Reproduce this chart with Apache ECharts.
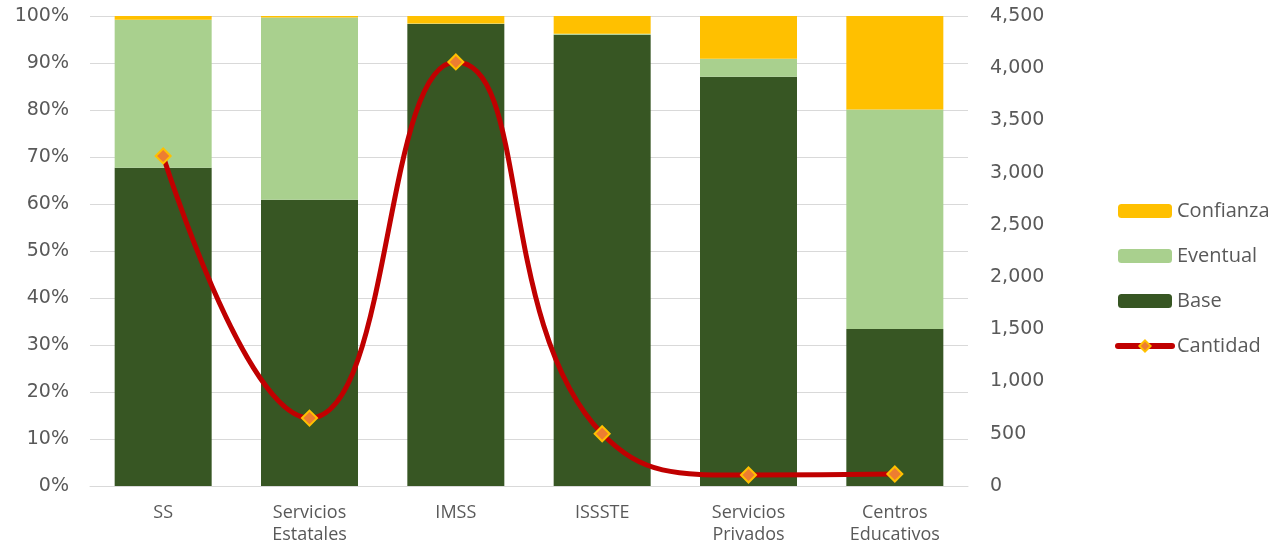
<!DOCTYPE html>
<html>
<head>
<meta charset="utf-8">
<script src="https://cdn.jsdelivr.net/npm/echarts@6/dist/echarts.min.js"></script>
<style>
html,body{margin:0;padding:0;background:#fff;}
#c{width:1279px;height:548px;}
</style>
</head>
<body>
<div id="c"></div>
<script>
const categories = ['SS', 'Servicios\nEstatales', 'IMSS', 'ISSSTE', 'Servicios\nPrivados', 'Centros\nEducativos'];
const base = [67.7, 60.9, 98.3, 96.0, 87.1, 33.4];
const eventual = [31.5, 38.8, 0.1, 0.2, 3.8, 46.7];
const confianza = [0.8, 0.3, 1.6, 3.8, 9.1, 19.9];
const cantidad = [3160, 650, 4060, 500, 105, 115];
const leftTicks = [0, 10, 20, 30, 40, 50, 60, 70, 80, 90, 100];
const rightTicks = [0, 500, 1000, 1500, 2000, 2500, 3000, 3500, 4000, 4500];

const FONT = '"Open Sans", "DejaVu Sans", sans-serif';
const NUMFONT = '"DejaVu Sans", sans-serif';
const TXT = '#595959';
const chart = echarts.init(document.getElementById('c'), null, {renderer: 'canvas'});
chart.setOption({
  animation: false,
  textStyle: {fontFamily: FONT},
  grid: {left: 90, right: 311, top: 16, bottom: 62, containLabel: false},
  legend: {
    orient: 'vertical',
    left: 1115,
    top: 201,
    padding: 0,
    itemGap: 25,
    itemWidth: 54,
    itemHeight: 14,
    textStyle: {color: TXT, fontSize: 20, fontFamily: FONT, padding: [0, 0, 0, 0]},
    data: ['Confianza', 'Eventual', 'Base',
      {name: 'Cantidad', lineStyle: {width: 6, cap: 'round'}}]
  },
  xAxis: {
    type: 'category',
    data: categories,
    axisLine: {lineStyle: {color: '#D9D9D9', width: 1}},
    axisTick: {show: false},
    axisLabel: {color: TXT, fontSize: 18, lineHeight: 22, margin: 16, fontFamily: FONT}
  },
  yAxis: [{
    type: 'value', min: leftTicks[0], max: leftTicks[leftTicks.length - 1], interval: 10,
    axisLine: {show: false}, axisTick: {show: false},
    splitLine: {lineStyle: {color: '#D9D9D9', width: 1}},
    axisLabel: {color: TXT, fontSize: 19, margin: 21, formatter: '{value}%', fontFamily: NUMFONT}
  }, {
    type: 'value', min: rightTicks[0], max: rightTicks[rightTicks.length - 1], interval: 500,
    position: 'right',
    axisLine: {show: false}, axisTick: {show: false},
    splitLine: {show: false},
    axisLabel: {color: TXT, fontSize: 19, margin: 22, fontFamily: NUMFONT,
      formatter: v => v.toLocaleString('en-US')}
  }],
  series: [
    {name: 'Base', type: 'bar', stack: 's', data: base, barWidth: 97,
      itemStyle: {color: '#375623'}},
    {name: 'Eventual', type: 'bar', stack: 's', data: eventual, barWidth: 97,
      itemStyle: {color: '#A9D08E'}},
    {name: 'Confianza', type: 'bar', stack: 's', data: confianza, barWidth: 97,
      itemStyle: {color: '#FFC000'}},
    {name: 'Cantidad', type: 'line', yAxisIndex: 1, data: cantidad, smooth: 0.5,
      symbol: 'diamond', symbolSize: 15,
      lineStyle: {color: '#C00000', width: 5, cap: 'round'},
      itemStyle: {color: '#ED7D31', borderColor: '#FFC000', borderWidth: 2}}
  ]
});
</script>
</body>
</html>
